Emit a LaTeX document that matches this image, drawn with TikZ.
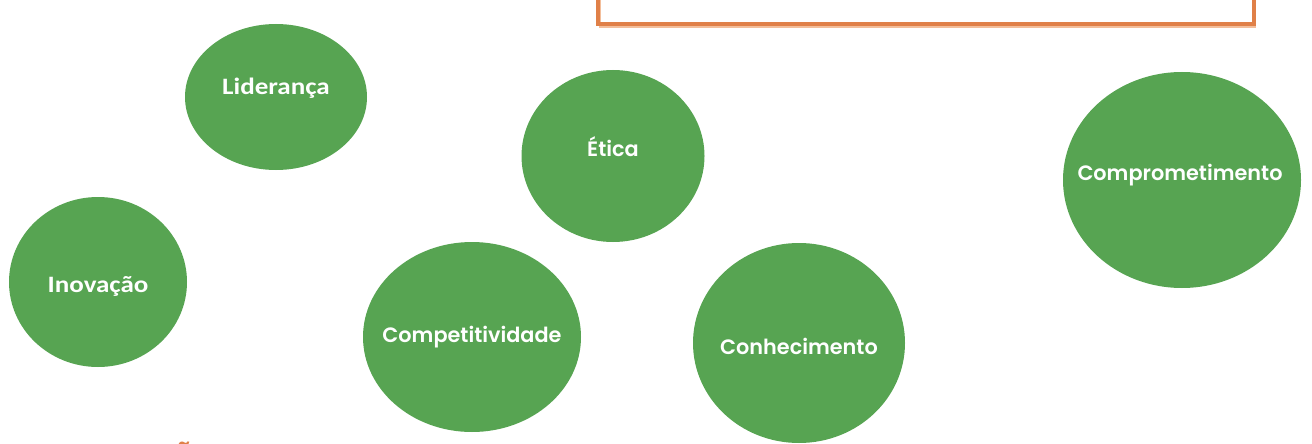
\documentclass[tikz,border=0pt]{standalone}
\usepackage{fontspec}
\setmainfont{Carlito}
\newfontfamily\geofont{Poppins SemiBold}
\definecolor{leafgreen}{RGB}{87,164,82}
\definecolor{frameorange}{RGB}{224,128,72}
\definecolor{frameshade}{RGB}{243,190,155}
\usetikzlibrary{shapes.geometric}
\tikzset{
  bubble/.style={ellipse, fill=leafgreen, draw=none, inner sep=0pt},
  calibrilabel/.style={text=white, font=\fontsize{23.5}{26}\selectfont\bfseries, inner sep=0pt, xscale=1.15, transform shape},
  geolabel/.style={text=white, font=\fontsize{20.8}{24}\geofont, inner sep=0pt},
}
\begin{document}
\begin{tikzpicture}[x=1pt,y=-1pt]
\useasboundingbox (0,0) rectangle (1312,444);
\clip (0,0) rectangle (1312,444);
% frame
\draw[frameshade, line width=1.2pt] (600,-10) -- (600,27) -- (1256,27);
\draw[frameorange, line width=4pt] (598,-10) -- (598,24.5) -- (1254,24.5) -- (1254,-10);
% bubbles
\node[bubble, minimum width=182pt, minimum height=146pt] (lid) at (276,97) {};
\node[bubble, minimum width=183pt, minimum height=172pt] (eti) at (613,156) {};
\node[bubble, minimum width=238pt, minimum height=216pt] (com) at (1182,180) {};
\node[bubble, minimum width=178pt, minimum height=170pt] (ino) at (98,282) {};
\node[bubble, minimum width=218pt, minimum height=190pt] (cpt) at (472,337) {};
\node[bubble, minimum width=212pt, minimum height=200pt] (con) at (799,343) {};
% labels
\node[calibrilabel, anchor=base] (tlid) at (276,94) {Liderança};
\node[calibrilabel, anchor=base] (tino) at (98,292) {Inovação};
\node[geolabel, anchor=base] (teti) at (613,156) {Ética};
\node[geolabel, anchor=base] (tcom) at (1180,180) {Comprometimento};
\node[geolabel, anchor=base] (tcpt) at (472,342) {Competitividade};
\node[geolabel, anchor=base] (tcon) at (799,354) {Conhecimento};
% cut-off title fragment
\node[text=frameorange, font=\fontsize{30}{34}\geofont, anchor=north] (frag) at (184,438) {Ã};
\end{tikzpicture}
\end{document}
